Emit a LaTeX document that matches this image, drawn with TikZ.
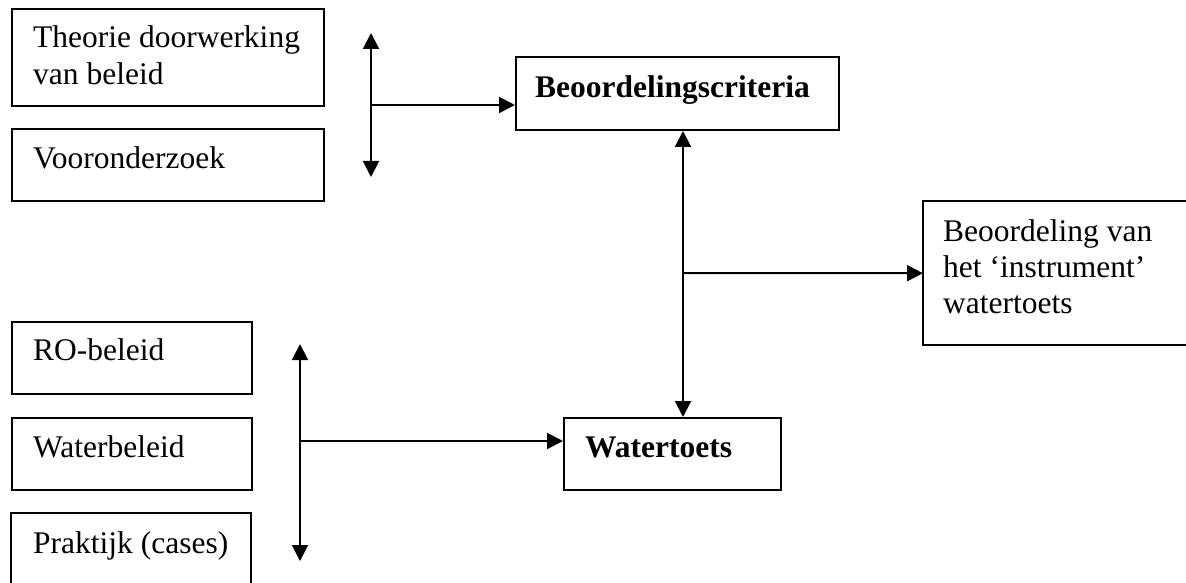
\documentclass[tikz,border=0pt]{standalone}
\usepackage{fontspec}
\setmainfont{Liberation Serif}
\usetikzlibrary{arrows.meta}

\tikzset{
  frame/.style={rectangle, draw, line width=2pt, inner sep=0pt, anchor=north west},
  openframe/.style={rectangle, inner sep=0pt, anchor=north west},
  lbl/.style={anchor=base west, inner sep=0pt, align=left,
              font=\fontsize{31.5}{37}\selectfont},
  boldlbl/.style={lbl, font=\fontsize{31.5}{37}\selectfont\bfseries},
  conn/.style={line width=2pt},
  onearrow/.style={conn, -{Triangle[length=16pt,width=16pt]}},
  twoarrow/.style={conn, {Triangle[length=16pt,width=16pt]}-{Triangle[length=16pt,width=16pt]}}
}

\begin{document}
\begin{tikzpicture}[x=1pt, y=-1pt]
  \useasboundingbox (0,0) rectangle (1186,583);

  % input boxes, upper group (the base anchor sits on the last text line)
  \node[frame, minimum width=312pt, minimum height=97pt] (th) at (11,8) {};
  \node[frame, minimum width=312pt, minimum height=72pt] (vo) at (11,128) {};
  \node[lbl] (thT) at ([shift={(22,77)}]th.north west) {Theorie doorwerking\\van beleid};
  \node[lbl] (voT) at ([shift={(22,40)}]vo.north west) {Vooronderzoek};

  % criteria box
  \node[frame, minimum width=323pt, minimum height=73pt] (bc) at (515,56) {};
  \node[boldlbl] (bcT) at ([shift={(20,42)}]bc.north west) {Beoordelingscriteria};

  % assessment box, open to the right
  \node[openframe, minimum width=300pt, minimum height=144pt] (rb) at (923,201) {};
  \draw[conn] (rb.north east) -- (rb.north west) -- (rb.south west) -- (rb.south east);
  \node[lbl, font=\fontsize{31.5}{36}\selectfont] (rbT) at ([shift={(20,112)}]rb.north west)
    {Beoordeling van\\het `instrument'\\watertoets};

  % input boxes, lower group
  \node[frame, minimum width=240pt, minimum height=72pt] (ro) at (11,321) {};
  \node[frame, minimum width=240pt, minimum height=72pt] (wb) at (11,417) {};
  \node[openframe, minimum width=240pt, minimum height=90pt] (pr) at (11,513) {};
  \draw[conn] (pr.south west) -- (pr.north west) -- (pr.north east) -- (pr.south east);
  \node[lbl] (roT) at ([shift={(22,39)}]ro.north west) {RO-beleid};
  \node[lbl] (wbT) at ([shift={(22,40)}]wb.north west) {Waterbeleid};
  \node[lbl] (prT) at ([shift={(22,40)}]pr.north west) {Praktijk (cases)};

  % watertoets box
  \node[frame, minimum width=217pt, minimum height=72pt] (wt) at (563,417) {};
  \node[boldlbl] (wtT) at ([shift={(22,40)}]wt.north west) {Watertoets};

  % upper bracket arrow and feed into the criteria
  \coordinate (ut) at (371,33);
  \coordinate (ub) at (371,177);
  \coordinate (um) at (371,105);
  \draw[twoarrow] (ut) -- (ub);
  \draw[onearrow] (um) -- (bc.west |- um);

  % lower bracket arrow and feed into the watertoets
  \coordinate (lt) at (300,344);
  \coordinate (lb) at (300,561);
  \coordinate (lm) at (300,441);
  \draw[twoarrow] (lt) -- (lb);
  \draw[onearrow] (lm) -- (wt.west |- lm);

  % link between criteria and watertoets, branching to the assessment
  \coordinate (vx) at (683,273);
  \draw[twoarrow] (bc.south -| vx) -- (wt.north -| vx);
  \draw[onearrow] (vx) -- (rb.west);
\end{tikzpicture}
\end{document}
